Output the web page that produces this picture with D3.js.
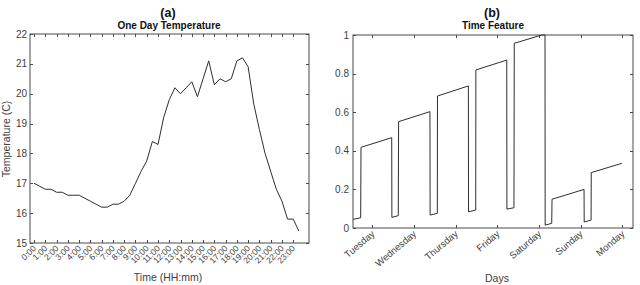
<!DOCTYPE html>
<html>
<head>
<meta charset="utf-8">
<script src="https://cdn.jsdelivr.net/npm/d3@7"></script>
<style>
    body { margin: 0; background: #fff; }
    text { font-family: "Liberation Sans", Arial, sans-serif; }
</style>
</head>
<body>
<div id="chart-area"></div>
<script>
/* Temperature readings every 30 minutes, starting at 0:00 */
var temperature = [17.0, 16.9, 16.8, 16.8, 16.7, 16.7, 16.6, 16.6, 16.6, 16.5, 16.4, 16.3,
    16.2, 16.2, 16.3, 16.3, 16.4, 16.6, 17.0, 17.4, 17.75, 18.4, 18.3, 19.2,
    19.8, 20.2, 20.0, 20.2, 20.4, 19.9, 20.5, 21.1, 20.3, 20.5, 20.4, 20.5,
    21.1, 21.2, 20.9, 19.65, 18.8, 18.0, 17.4, 16.8, 16.4, 15.8, 15.8, 15.4];
var hourLabels = ["0:00", "1:00", "2:00", "3:00", "4:00", "5:00", "6:00", "7:00", "8:00",
    "9:00", "10:00", "11:00", "12:00", "13:00", "14:00", "15:00", "16:00", "17:00",
    "18:00", "19:00", "20:00", "21:00", "22:00", "23:00"];
var tempTicks = [15, 16, 17, 18, 19, 20, 21, 22];

/* Time feature: hours from the start of the window and feature value */
var featHours = [0, 4.8, 5.0, 24.2, 24.3, 28.3, 28.5, 48.1, 48.2, 52.7, 52.8, 72.1, 72.2,
    76.7, 76.8, 96.1, 96.2, 100.6, 100.8, 118.0, 120.0, 120.1, 124.2, 124.4, 144.4,
    144.5, 148.8, 148.9, 168.0];
var featValues = [0.045, 0.053, 0.418, 0.468, 0.055, 0.064, 0.551, 0.603, 0.067, 0.076, 0.684, 0.736, 0.084,
    0.093, 0.819, 0.870, 0.098, 0.105, 0.957, 1.0, 1.0, 0.015, 0.024, 0.149, 0.200,
    0.031, 0.041, 0.287, 0.335];
var dayLabels = ["Tuesday", "Wednesday", "Thursday", "Friday", "Saturday", "Sunday", "Monday"];
var dayTickHours = [12.1, 38.1, 64.1, 90.2, 116.2, 142.2, 168.3];
var featTicks = [0, 0.2, 0.4, 0.6, 0.8, 1];

var width = 640;
var height = 285;
var axisColor = "#4a4a4a";
var labelColor = "#404040";
var lineColor = "#2e2e2e";

var svg = d3.select("#chart-area")
    .append("svg")
    .attr("width", width)
    .attr("height", height);

/* Draws a MATLAB style box with inner ticks on all four sides */
function drawBox(x, y, xTicks, yTicks) {
    var g = svg.append("g");
    var x0 = x.range()[0], x1 = x.range()[1];
    var y0 = y.range()[0], y1 = y.range()[1];
    var tl = 3;

    g.append("rect")
        .attr("x", x0)
        .attr("y", y1)
        .attr("width", x1 - x0)
        .attr("height", y0 - y1)
        .attr("fill", "none")
        .attr("stroke", axisColor)
        .attr("stroke-width", 1);

    xTicks.forEach(function(t) {
        var px = Math.round(x(t)) + 0.5;
        g.append("line").attr("x1", px).attr("x2", px).attr("y1", y0).attr("y2", y0 - tl)
            .attr("stroke", axisColor);
        g.append("line").attr("x1", px).attr("x2", px).attr("y1", y1).attr("y2", y1 + tl)
            .attr("stroke", axisColor);
    });
    yTicks.forEach(function(t) {
        var py = Math.round(y(t)) + 0.5;
        g.append("line").attr("x1", x0).attr("x2", x0 + tl).attr("y1", py).attr("y2", py)
            .attr("stroke", axisColor);
        g.append("line").attr("x1", x1).attr("x2", x1 - tl).attr("y1", py).attr("y2", py)
            .attr("stroke", axisColor);
    });
    return g;
}

/* ---------- (a) One Day Temperature ---------- */
var xa = d3.scaleLinear().domain([-0.36, 24.4]).range([30, 309]);
var ya = d3.scaleLinear().domain([15, 22]).range([243, 34]);
var hourTicks = hourLabels.map(function(d, i) { return i; });

var ga = drawBox(xa, ya, hourTicks, tempTicks);

ga.selectAll(".ylab")
    .data(tempTicks)
    .enter().append("text")
    .attr("x", 27)
    .attr("y", function(d) { return ya(d) + 3.5; })
    .attr("text-anchor", "end")
    .attr("font-size", "10px")
    .attr("fill", labelColor)
    .text(function(d) { return d; });

ga.selectAll(".xlab")
    .data(hourLabels)
    .enter().append("text")
    .attr("transform", function(d, i) {
        return "translate(" + (xa(i) + 2.5) + "," + 249 + ") rotate(-45)";
    })
    .attr("text-anchor", "end")
    .attr("font-size", "8.5px")
    .attr("fill", labelColor)
    .text(function(d) { return d; });

var lineA = d3.line()
    .x(function(d, i) { return xa(i / 2); })
    .y(function(d) { return ya(d); });

svg.append("path")
    .datum(temperature)
    .attr("d", lineA)
    .attr("fill", "none")
    .attr("stroke", lineColor)
    .attr("stroke-width", 1);

svg.append("text")
    .attr("x", 168).attr("y", 17)
    .attr("text-anchor", "middle")
    .attr("font-size", "12.5px").attr("font-weight", "bold")
    .attr("fill", "#111")
    .text("(a)");
svg.append("text")
    .attr("x", 169).attr("y", 29)
    .attr("text-anchor", "middle")
    .attr("font-size", "10px").attr("font-weight", "bold")
    .attr("fill", "#111")
    .text("One Day Temperature");
svg.append("text")
    .attr("transform", "translate(10,139) rotate(-90)")
    .attr("text-anchor", "middle")
    .attr("font-size", "10.5px")
    .attr("fill", labelColor)
    .text("Temperature (C)");
svg.append("text")
    .attr("x", 168).attr("y", 281)
    .attr("text-anchor", "middle")
    .attr("font-size", "10.5px")
    .attr("fill", labelColor)
    .text("Time (HH:mm)");

/* ---------- (b) Time Feature ---------- */
var xb = d3.scaleLinear().domain([0, 175]).range([353, 633]);
var yb = d3.scaleLinear().domain([0, 1]).range([228, 35]);

var gb = drawBox(xb, yb, dayTickHours, featTicks);

gb.selectAll(".ylab")
    .data(featTicks)
    .enter().append("text")
    .attr("x", 349)
    .attr("y", function(d) { return yb(d) + 3.5; })
    .attr("text-anchor", "end")
    .attr("font-size", "10px")
    .attr("fill", labelColor)
    .text(function(d) { return d; });

gb.selectAll(".xlab")
    .data(dayLabels)
    .enter().append("text")
    .attr("transform", function(d, i) {
        return "translate(" + (xb(dayTickHours[i]) + 3) + "," + 235 + ") rotate(-40)";
    })
    .attr("text-anchor", "end")
    .attr("font-size", "9.5px")
    .attr("fill", labelColor)
    .text(function(d) { return d; });

var lineB = d3.line()
    .x(function(d, i) { return xb(featHours[i]); })
    .y(function(d) { return yb(d); });

svg.append("path")
    .datum(featValues)
    .attr("d", lineB)
    .attr("fill", "none")
    .attr("stroke", lineColor)
    .attr("stroke-width", 1);

svg.append("text")
    .attr("x", 492).attr("y", 17)
    .attr("text-anchor", "middle")
    .attr("font-size", "12.5px").attr("font-weight", "bold")
    .attr("fill", "#111")
    .text("(b)");
svg.append("text")
    .attr("x", 493).attr("y", 29)
    .attr("text-anchor", "middle")
    .attr("font-size", "10px").attr("font-weight", "bold")
    .attr("fill", "#111")
    .text("Time Feature");
svg.append("text")
    .attr("x", 497).attr("y", 282)
    .attr("text-anchor", "middle")
    .attr("font-size", "10.5px")
    .attr("fill", labelColor)
    .text("Days");
</script>
</body>
</html>
